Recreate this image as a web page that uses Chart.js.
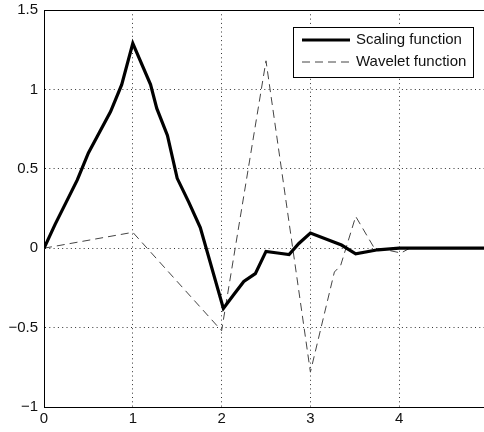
<!DOCTYPE html>
<html>
<head>
<meta charset="utf-8">
<script src="https://cdn.jsdelivr.net/npm/chart.js@4.4.1/dist/chart.umd.min.js"></script>
<style>
  html, body { margin: 0; padding: 0; background: #fff; overflow: hidden; }
  #wrap { width: 496px; height: 432px; position: relative; }
</style>
</head>
<body>
<div id="wrap"><canvas id="chart"></canvas></div>
<script>
// values
const scalingX = [0, 0.125, 0.25, 0.375, 0.5, 0.625, 0.75, 0.875, 1, 1.2, 1.27, 1.39, 1.5, 1.63, 1.76, 2.02, 2.14, 2.25, 2.38, 2.5, 2.63, 2.76, 2.87, 3, 3.35, 3.51, 3.76, 4, 5];
const scalingY = [0, 0.15, 0.29, 0.43, 0.6, 0.73, 0.86, 1.03, 1.29, 1.03, 0.88, 0.71, 0.44, 0.29, 0.13, -0.38, -0.29, -0.21, -0.16, -0.02, -0.03, -0.04, 0.03, 0.095, 0.02, -0.035, -0.01, 0, 0];
const waveletX = [0, 1, 2, 2.5, 3, 3.27, 3.34, 3.51, 3.72, 3.85, 4.02, 4.12, 5];
const waveletY = [0, 0.1, -0.52, 1.18, -0.78, -0.15, -0.11, 0.2, 0, -0.01, -0.03, 0, 0];
const seriesLabels = ["Scaling function", "Wavelet function"];
const xTicks = [0, 1, 2, 3, 4, 5];
const yTicks = [-1, -0.5, 0, 0.5, 1, 1.5];

const FONT = '"Liberation Sans", Arial, sans-serif';
Chart.defaults.font.family = FONT;
Chart.defaults.font.size = 15;
Chart.defaults.color = "#111";

const toXY = (xs, ys) => xs.map((x, i) => ({ x, y: ys[i] }));
const fmt = (v) => (v < 0 ? "\u2212" + Math.abs(v) : String(v));

// matlab style legend box + top frame line
const matlabBits = {
  id: "matlabBits",
  afterDatasetsDraw(chart) {
    const ctx = chart.ctx;
    const { left, right, top } = chart.chartArea;
    ctx.save();
    ctx.strokeStyle = "#000";
    ctx.lineWidth = 1;
    ctx.beginPath();
    ctx.moveTo(left, top + 0.5);
    ctx.lineTo(right, top + 0.5);
    ctx.stroke();

    const bx = right - 195, by = top + 17, bw = 180, bh = 50;
    ctx.fillStyle = "#fff";
    ctx.fillRect(bx, by, bw, bh);
    ctx.strokeRect(bx + 0.5, by + 0.5, bw, bh);

    chart.data.datasets.forEach((ds, i) => {
      const y = by + 13 + i * 22;
      ctx.save();
      ctx.strokeStyle = ds.borderColor;
      ctx.lineWidth = ds.borderWidth;
      ctx.setLineDash(ds.borderDash || []);
      ctx.beginPath();
      ctx.moveTo(bx + 9, y);
      ctx.lineTo(bx + 57, y);
      ctx.stroke();
      ctx.restore();
      ctx.fillStyle = "#111";
      ctx.font = "15px " + FONT;
      ctx.textBaseline = "middle";
      ctx.fillText(ds.label, bx + 63, y);
    });
    ctx.restore();
  },
};

const edgeClear = (lo, hi) => (c) =>
  c.tick && (c.tick.value === lo || c.tick.value === hi) ? "rgba(0,0,0,0)" : "#333";

new Chart(document.getElementById("chart"), {
  type: "line",
  data: {
    datasets: [
      { label: seriesLabels[0], data: toXY(scalingX, scalingY), borderColor: "#000", borderWidth: 3.2, pointRadius: 0, tension: 0, fill: false },
      { label: seriesLabels[1], data: toXY(waveletX, waveletY), borderColor: "#444", borderWidth: 1, borderDash: [8, 5], pointRadius: 0, tension: 0, fill: false },
    ],
  },
  options: {
    responsive: true,
    maintainAspectRatio: false,
    animation: false,
    layout: { padding: { top: 10, right: 8, left: 0, bottom: 0 } },
    plugins: { legend: { display: false }, tooltip: { enabled: false } },
    scales: {
      x: {
        type: "linear",
        min: 0,
        max: 5,
        afterBuildTicks: (s) => { s.ticks = xTicks.map((v) => ({ value: v })); },
        afterFit: (s) => { s.height = 25; s.paddingLeft = 0; s.paddingRight = 0; },
        ticks: { padding: 3, maxRotation: 0, callback: fmt },
        grid: { color: edgeClear(0, 5), lineWidth: 1, drawTicks: false },
        border: { display: true, color: "#000", width: 1, dash: [1, 3.3] },
      },
      y: {
        type: "linear",
        min: -1,
        max: 1.5,
        afterBuildTicks: (s) => { s.ticks = yTicks.map((v) => ({ value: v })); },
        afterFit: (s) => { s.width = 44; s.paddingTop = 0; s.paddingBottom = 0; },
        ticks: { padding: 6, callback: fmt },
        grid: { color: edgeClear(-1, 1.5), lineWidth: 1, drawTicks: false },
        border: { display: true, color: "#000", width: 1, dash: [1, 3.3] },
      },
    },
  },
  plugins: [matlabBits],
});
</script>
</body>
</html>
